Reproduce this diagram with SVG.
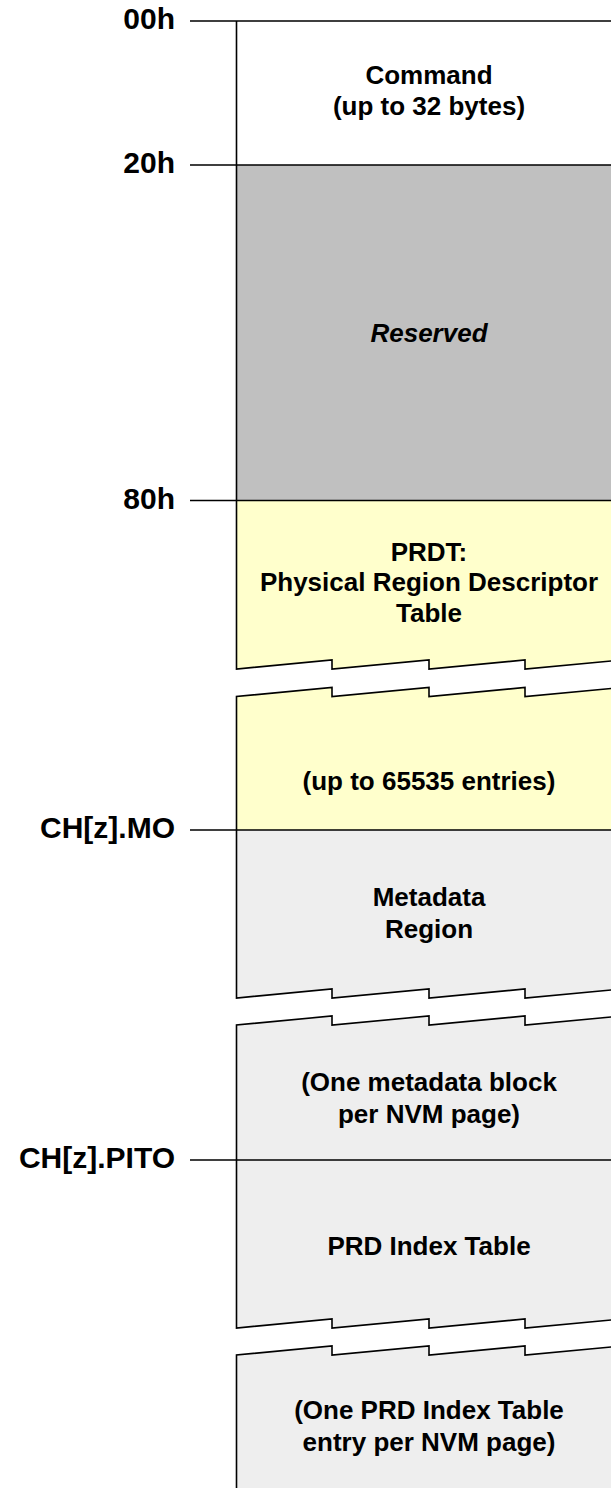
<svg xmlns="http://www.w3.org/2000/svg" width="611" height="1488" viewBox="0 0 611 1488">
<style>
.t{font-family:"Liberation Sans",Arial,sans-serif;font-weight:bold;font-size:26px;text-anchor:middle;fill:#000}
.lbl{font-family:"Liberation Sans",Arial,sans-serif;font-weight:bold;font-size:30px;text-anchor:end;fill:#000}
.edge{fill:none;stroke:#000;stroke-width:1.6;stroke-linejoin:miter}
.gray{fill:#C0C0C0}
.yel{fill:#FFFFCC}
.lg{fill:#EEEEEE}
</style>
<rect width="611" height="1488" fill="#fff"/>
<g id="command">
<rect x="236" y="21" width="380" height="144" fill="#fff"/>
<text class="t" x="429" y="84">Command</text>
<text class="t" x="429" y="115">(up to 32 bytes)</text>
</g>
<g id="reserved">
<rect class="gray" x="236" y="165" width="380" height="335.5"/>
<text class="t" x="429" y="342" font-style="italic">Reserved</text>
</g>
<g id="prdt">
<path class="yel" d="M236 500.5 H621 V660 L525 669 V660 L429 669 V660 L332 669 V660 L236 669 Z"/>
<path class="edge" d="M236.5 500.5 V669 L332 660 V669 L429 660 V669 L525 660 V669 L621 660"/>
<text class="t" x="429" y="561">PRDT:</text>
<text class="t" x="429" y="591">Physical Region Descriptor</text>
<text class="t" x="429" y="622">Table</text>
</g>
<g id="prdt-entries">
<path class="yel" d="M236 696.5 L332 687.5 V696.5 L429 687.5 V696.5 L525 687.5 V696.5 L621 687.5 V830 H236 Z"/>
<path class="edge" d="M236.5 830 V696.5 L332 687.5 V696.5 L429 687.5 V696.5 L525 687.5 V696.5 L621 687.5"/>
<text class="t" x="429" y="790">(up to 65535 entries)</text>
</g>
<g id="metadata">
<path class="lg" d="M236 830 H621 V989 L525 998 V989 L429 998 V989 L332 998 V989 L236 998 Z"/>
<path class="edge" d="M236.5 830 V998 L332 989 V998 L429 989 V998 L525 989 V998 L621 989"/>
<text class="t" x="429" y="906">Metadata</text>
<text class="t" x="429" y="938">Region</text>
</g>
<g id="metadata-blocks">
<path class="lg" d="M236 1025 L332 1016 V1025 L429 1016 V1025 L525 1016 V1025 L621 1016 V1160 H236 Z"/>
<path class="edge" d="M236.5 1160 V1025 L332 1016 V1025 L429 1016 V1025 L525 1016 V1025 L621 1016"/>
<text class="t" x="429" y="1091">(One metadata block</text>
<text class="t" x="429" y="1123">per NVM page)</text>
</g>
<g id="prd-index-table">
<path class="lg" d="M236 1160 H621 V1319 L525 1328 V1319 L429 1328 V1319 L332 1328 V1319 L236 1328 Z"/>
<path class="edge" d="M236.5 1160 V1328 L332 1319 V1328 L429 1319 V1328 L525 1319 V1328 L621 1319"/>
<text class="t" x="429" y="1255">PRD Index Table</text>
</g>
<g id="prd-index-entries">
<path class="lg" d="M236 1355 L332 1346 V1355 L429 1346 V1355 L525 1346 V1355 L621 1346 V1490 H236 Z"/>
<path class="edge" d="M236.5 1490 V1355 L332 1346 V1355 L429 1346 V1355 L525 1346 V1355 L621 1346"/>
<text class="t" x="429" y="1419">(One PRD Index Table</text>
<text class="t" x="429" y="1451">entry per NVM page)</text>
</g>
<g id="connectors">
<path class="edge" d="M236.5 21 V500.5"/>
<path class="edge" d="M190 21 H611 M190 165 H611 M190 500.5 H611 M190 830 H611 M190 1160 H611"/>
</g>
<g id="offset-labels">
<text class="lbl" x="175" y="29">00h</text>
<text class="lbl" x="175" y="173">20h</text>
<text class="lbl" x="175" y="509">80h</text>
<text class="lbl" x="175" y="838">CH[z].MO</text>
<text class="lbl" x="175" y="1168">CH[z].PITO</text>
</g>
</svg>
